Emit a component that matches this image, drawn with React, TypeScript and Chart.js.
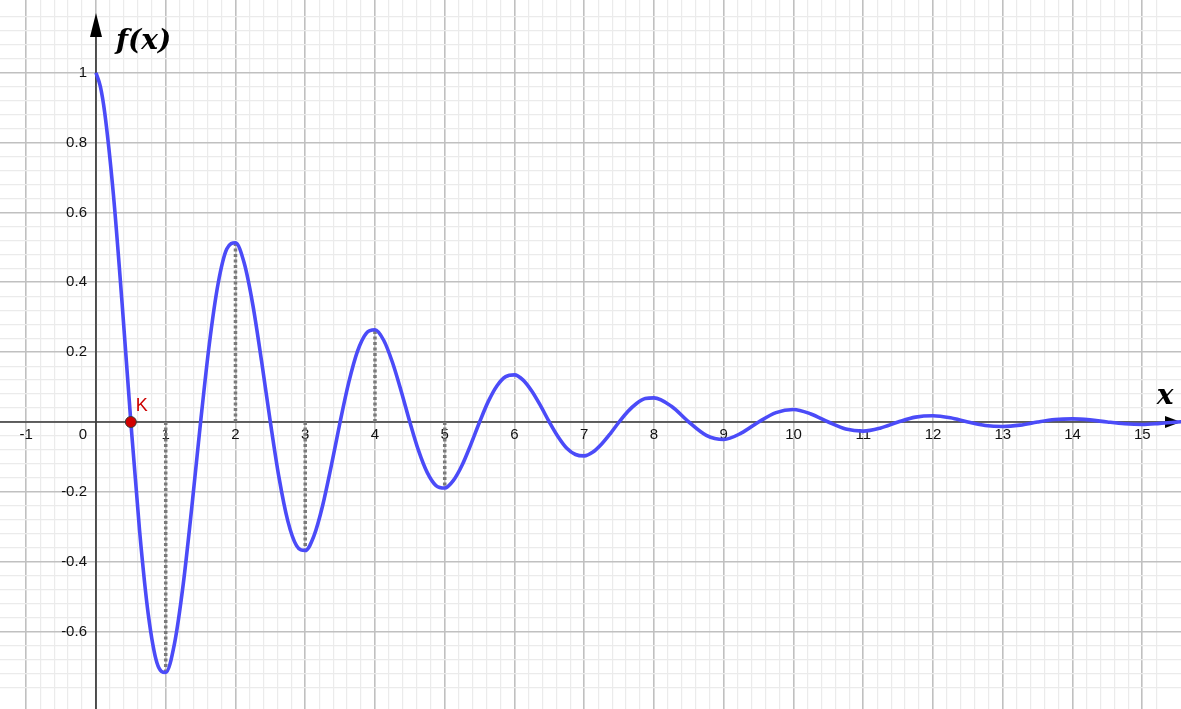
import { useEffect, useRef } from "react";
import { Chart, registerables } from "chart.js";

Chart.register(...registerables);

// Curve f(x)
const curveX = [0, 0.0625, 0.125, 0.25, 0.375, 0.5, 0.625, 0.75, 0.875, 1, 1.125, 1.25, 1.375, 1.5, 1.625, 1.75, 1.875, 2, 2.125, 2.25, 2.375, 2.5, 2.625, 2.75, 2.875, 3, 3.125, 3.25, 3.375, 3.5, 3.625, 3.75, 3.875, 4, 4.125, 4.25, 4.375, 4.5, 4.625, 4.75, 4.875, 5, 5.125, 5.25, 5.375, 5.5, 5.625, 5.75, 5.875, 6, 6.125, 6.25, 6.375, 6.5, 6.625, 6.75, 6.875, 7, 7.125, 7.25, 7.375, 7.5, 7.625, 7.75, 7.875, 8, 8.25, 8.5, 8.75, 9, 9.25, 9.5, 9.75, 10, 10.25, 10.5, 10.75, 11, 11.25, 11.5, 11.75, 12, 12.25, 12.5, 12.75, 13, 13.25, 13.5, 13.75, 14, 14.25, 14.5, 14.75, 15, 15.25, 15.5, 15.75];
const curveY = [1.0, 0.961, 0.886, 0.651, 0.338, 0, -0.311, -0.551, -0.69, -0.717, -0.635, -0.466, -0.242, 0, 0.223, 0.395, 0.495, 0.513, 0.455, 0.334, 0.173, 0, -0.16, -0.283, -0.354, -0.368, -0.326, -0.239, -0.124, 0, 0.114, 0.203, 0.254, 0.264, 0.234, 0.171, 0.089, 0, -0.082, -0.145, -0.182, -0.189, -0.167, -0.123, -0.064, 0, 0.059, 0.104, 0.13, 0.135, 0.12, 0.088, 0.046, 0, -0.042, -0.075, -0.093, -0.097, -0.086, -0.063, -0.033, 0, 0.03, 0.053, 0.067, 0.069, 0.045, 0, -0.038, -0.05, -0.032, 0, 0.027, 0.036, 0.023, 0, -0.02, -0.026, -0.017, 0, 0.014, 0.018, 0.012, 0, -0.01, -0.013, -0.009, 0, 0.007, 0.009, 0.006, 0, -0.005, -0.007, -0.004, 0, 0.004];

// Dotted drop lines from the x axis to the extrema
const dropX = [1, 2, 3, 4, 5];
const dropY = [-0.717, 0.513, -0.368, 0.264, -0.189];

// Point K
const pointKX = [0.5];
const pointKY = [0];
const pointKLabel = "K";

// Tick labels
const xTickLabels = [-1, 1, 2, 3, 4, 5, 6, 7, 8, 9, 10, 11, 12, 13, 14, 15];
const yTickLabels = [1, 0.8, 0.6, 0.4, 0.2, -0.2, -0.4, -0.6];
const originLabel = "0";
const xAxisTitle = "x";
const yAxisTitle = "f(x)";

const X_MIN = -1.376;
const X_MAX = 15.556;
const Y_MIN = -0.8216;
const Y_MAX = 1.2081;

const isMult = (v: number, s: number) => {
  const r = v / s;
  return Math.abs(r - Math.round(r)) < 1e-6;
};

const LABEL_FONT = '15px "Liberation Sans", Arial, sans-serif';

const axesPlugin = {
  id: "axesPlugin",
  beforeDatasetsDraw(chart: any) {
    const { ctx, chartArea } = chart;
    const xs = chart.scales.x;
    const ys = chart.scales.y;
    const ox = xs.getPixelForValue(0);
    const oy = ys.getPixelForValue(0);
    ctx.save();
    ctx.strokeStyle = "#3a3a3a";
    ctx.fillStyle = "#000";
    ctx.lineWidth = 1.7;
    // x axis
    ctx.beginPath();
    ctx.moveTo(chartArea.left, oy);
    ctx.lineTo(chartArea.right - 8, oy);
    ctx.stroke();
    ctx.beginPath();
    ctx.moveTo(chartArea.right, oy);
    ctx.lineTo(chartArea.right - 16, oy - 6);
    ctx.lineTo(chartArea.right - 16, oy + 6);
    ctx.closePath();
    ctx.fill();
    // y axis
    ctx.beginPath();
    ctx.moveTo(ox, chartArea.bottom);
    ctx.lineTo(ox, chartArea.top + 30);
    ctx.stroke();
    ctx.beginPath();
    ctx.moveTo(ox, chartArea.top + 13);
    ctx.lineTo(ox - 6, chartArea.top + 37);
    ctx.lineTo(ox + 6, chartArea.top + 37);
    ctx.closePath();
    ctx.fill();

    // tick labels
    ctx.font = LABEL_FONT;
    ctx.fillStyle = "#111";
    ctx.textBaseline = "middle";
    ctx.textAlign = "center";
    xTickLabels.forEach((v) => {
      ctx.fillText(String(v), xs.getPixelForValue(v), oy + 13);
    });
    ctx.textAlign = "right";
    yTickLabels.forEach((v) => {
      ctx.fillText(String(v), ox - 9, ys.getPixelForValue(v));
    });
    ctx.fillText(originLabel, ox - 9, oy + 13);

    // axis titles
    ctx.fillStyle = "#000";
    ctx.textAlign = "left";
    ctx.font = 'bold italic 28px "DejaVu Serif", serif';
    ctx.fillText(yAxisTitle, ox + 20, chartArea.top + 42);
    ctx.textAlign = "center";
    ctx.fillText(xAxisTitle, chartArea.right - 16, oy - 25);
    ctx.restore();
  },
  afterDatasetsDraw(chart: any) {
    const { ctx } = chart;
    const xs = chart.scales.x;
    const ys = chart.scales.y;
    ctx.save();
    ctx.font = '18px "Liberation Sans", Arial, sans-serif';
    ctx.fillStyle = "#cc0000";
    ctx.textAlign = "left";
    ctx.textBaseline = "middle";
    ctx.fillText(pointKLabel, xs.getPixelForValue(pointKX[0]) + 5, ys.getPixelForValue(pointKY[0]) - 16);
    ctx.restore();
  },
};

export default function App() {
  const canvasRef = useRef<HTMLCanvasElement | null>(null);

  useEffect(() => {
    if (!canvasRef.current) return;
    const dropSets = dropX.map((x, i) => ({
      data: [
        { x, y: 0 },
        { x, y: dropY[i] },
      ],
      borderColor: "#7a7a7a",
      borderWidth: 3.5,
      borderDash: [3, 2.5],
      borderCapStyle: "butt",
      pointRadius: 0,
      tension: 0,
      order: 3,
    }));
    const chart = new Chart(canvasRef.current, {
      type: "line",
      data: {
        datasets: [
          {
            data: curveX.map((x, i) => ({ x, y: curveY[i] })),
            borderColor: "#4b4bf8",
            borderWidth: 3.6,
            pointRadius: 0,
            cubicInterpolationMode: "monotone",
            order: 1,
          },
          ...dropSets,
          {
            data: pointKX.map((x, i) => ({ x, y: pointKY[i] })),
            showLine: false,
            pointRadius: 5.5,
            pointBackgroundColor: "#d10000",
            pointBorderColor: "#3a3a3a",
            pointBorderWidth: 1,
            order: 0,
          },
        ] as any,
      },
      options: {
        animation: false,
        responsive: false,
        layout: { padding: 0, autoPadding: false },
        plugins: {
          legend: { display: false },
          tooltip: { enabled: false },
        },
        scales: {
          x: {
            type: "linear",
            min: X_MIN,
            max: X_MAX,
            border: { display: false },
            ticks: { display: false, stepSize: 0.2 },
            grid: {
              drawTicks: false,
              color: (c: any) =>
                isMult(c.tick.value, 1) ? "#c0c0c0" : isMult(c.tick.value, 0.2) ? "#ebebeb" : "rgba(0,0,0,0)",
              lineWidth: (c: any) => (isMult(c.tick.value, 1) ? 1.6 : 1.2),
            },
          },
          y: {
            type: "linear",
            min: Y_MIN,
            max: Y_MAX,
            border: { display: false },
            ticks: { display: false, stepSize: 0.04 },
            grid: {
              drawTicks: false,
              color: (c: any) =>
                isMult(c.tick.value, 0.2) ? "#c0c0c0" : isMult(c.tick.value, 0.04) ? "#ebebeb" : "rgba(0,0,0,0)",
              lineWidth: (c: any) => (isMult(c.tick.value, 0.2) ? 1.6 : 1.2),
            },
          },
        },
      } as any,
      plugins: [axesPlugin],
    });
    return () => chart.destroy();
  }, []);

  return (
    <div style={{ position: "fixed", left: 0, top: 0, width: 1181, height: 709, background: "#fff" }}>
      <canvas ref={canvasRef} width={1181} height={709} style={{ display: "block" }} />
    </div>
  );
}
